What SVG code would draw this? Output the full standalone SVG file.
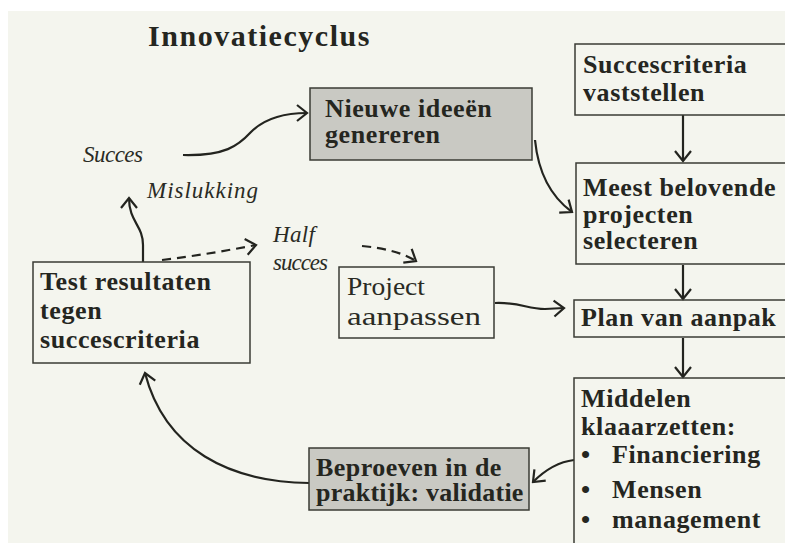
<svg xmlns="http://www.w3.org/2000/svg" width="785" height="543" viewBox="0 0 785 543">
<style>
.t{font-family:"Liberation Serif",serif;font-weight:bold;font-size:26px;letter-spacing:0.6px;fill:#25261f}
.r{font-family:"Liberation Serif",serif;font-size:26px;fill:#2a2b24}
.i{font-family:"Liberation Serif",serif;font-style:italic;font-size:23px;fill:#2a2b24}
.box{fill:none;stroke:#3a3b35;stroke-width:1.5}
.gray{fill:#c9c9c3;stroke:#3a3b35;stroke-width:1.5}
.c{fill:none;stroke:#23241f;stroke-width:2.2;marker-end:url(#a)}
.d{stroke-dasharray:9 6}
</style>
<defs>
<marker id="a" viewBox="0 0 14 20" refX="12" refY="10" markerWidth="14" markerHeight="20" markerUnits="userSpaceOnUse" orient="auto">
<path d="M2,2 L12,10 L2,18" fill="none" stroke="#23241f" stroke-width="2.2" stroke-dasharray="none"/>
</marker>
</defs>
<rect width="785" height="543" fill="#ffffff"/>
<rect x="8" y="11" width="777" height="532" fill="#f4f5ee"/>
<text class="t" x="148" y="46" style="font-size:30px" textLength="222">Innovatiecyclus</text>

<g id="connectors">
<path class="c" d="M183,155 C225,156 238,146 251,132 C264,119 285,113 307,113"/>
<path class="c" d="M535,140 C538,170 550,196 572,212"/>
<path class="c" d="M683,115 L683,161"/>
<path class="c" d="M683,265 L683,299"/>
<path class="c" d="M683,338 L683,377"/>
<path class="c" d="M574,460 C557,462 545,470 533,482"/>
<path class="c" d="M309,483 C230,482 165,450 145,373"/>
<path class="c" d="M143,262 L143,245 C143,225 129,222 129,198"/>
<path class="c d" d="M162,260 C195,256 225,251 256,245"/>
<path class="c d" d="M362,246 C385,248 403,253 416,261"/>
<path class="c" d="M495,303 C520,302 527,309 545,309 L564,308"/>
</g>

<g id="labels">
<text class="i" x="83" y="162" textLength="60">Succes</text>
<text class="i" x="147" y="198" textLength="111">Mislukking</text>
<text class="i" x="273" y="242" textLength="42">Half</text>
<text class="i" x="273" y="270" textLength="55">succes</text>
</g>

<g id="nieuwe">
<rect class="gray" x="310" y="88" width="222" height="72"/>
<text class="t" x="325" y="117">Nieuwe ideeën</text>
<text class="t" x="325" y="143">genereren</text>
</g>

<g id="succescriteria">
<rect class="box" x="575" y="44" width="230" height="71"/>
<text class="t" x="583" y="73">Succescriteria</text>
<text class="t" x="583" y="101">vaststellen</text>
</g>

<g id="meest">
<rect class="box" x="576" y="163" width="230" height="101"/>
<text class="t" x="583" y="196">Meest belovende</text>
<text class="t" x="583" y="223">projecten</text>
<text class="t" x="583" y="249">selecteren</text>
</g>

<g id="plan">
<rect class="box" x="574" y="300" width="230" height="37"/>
<text class="t" x="581" y="326">Plan van aanpak</text>
</g>

<g id="middelen">
<rect class="box" x="574" y="378" width="230" height="180"/>
<text class="t" x="581" y="407">Middelen</text>
<text class="t" x="581" y="435">klaaarzetten:</text>
<text class="t" x="581" y="463">•</text>
<text class="t" x="612" y="463">Financiering</text>
<text class="t" x="581" y="498">•</text>
<text class="t" x="612" y="498">Mensen</text>
<text class="t" x="581" y="528">•</text>
<text class="t" x="612" y="528">management</text>
</g>

<g id="beproeven">
<rect class="gray" x="309" y="448" width="220" height="62"/>
<text class="t" x="316" y="476" textLength="186">Beproeven in de</text>
<text class="t" x="316" y="501" textLength="208">praktijk: validatie</text>
</g>

<g id="test">
<rect class="box" x="33" y="262" width="217" height="101"/>
<text class="t" x="40" y="290">Test resultaten</text>
<text class="t" x="40" y="319">tegen</text>
<text class="t" x="40" y="348">succescriteria</text>
</g>

<g id="project">
<rect class="box" x="339" y="267" width="155" height="71"/>
<text class="r" x="347" y="295" textLength="78" lengthAdjust="spacingAndGlyphs">Project</text>
<text class="r" x="347" y="325" textLength="134" lengthAdjust="spacingAndGlyphs">aanpassen</text>
</g>
</svg>
